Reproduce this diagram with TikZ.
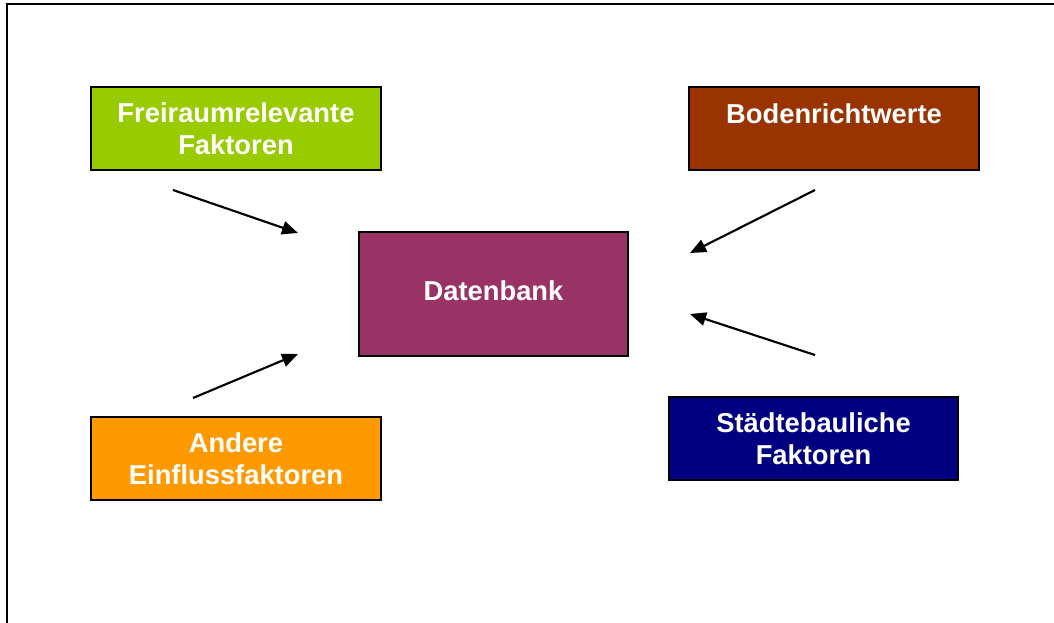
\documentclass[tikz,border=0pt]{standalone}
\usepackage{fontspec}
\setmainfont{Liberation Sans}
\usetikzlibrary{arrows.meta}
\begin{document}
\begin{tikzpicture}[x=0.75pt,y=-0.75pt,
  box/.style={draw=black,line width=1.5pt,rectangle,inner sep=0pt},
  lbl/.style={text=white,font=\fontsize{20.5}{24}\selectfont\bfseries,align=center,inner sep=0pt},
  conn/.style={line width=1.6pt,-{Triangle[length=12pt,width=10pt]}}]
\useasboundingbox (0,0) rectangle (1054,622);
\fill[white] (0,0) rectangle (1054,622);
\draw[line width=1.8pt] (7,640) -- (7,4) -- (1070,4);
% boxes
\node[box,fill={rgb,255:red,153;green,204;blue,0},minimum width=218pt,minimum height=62pt] (fr) at (236,128.5) {};
\node[box,fill={rgb,255:red,153;green,51;blue,0},minimum width=218pt,minimum height=62pt] (bo) at (834,128.5) {};
\node[box,fill={rgb,255:red,153;green,51;blue,102},minimum width=202pt,minimum height=93pt] (db) at (493.5,294) {};
\node[box,fill={rgb,255:red,255;green,153;blue,0},minimum width=218pt,minimum height=62pt] (an) at (236,458.5) {};
\node[box,fill={rgb,255:red,0;green,0;blue,128},minimum width=217pt,minimum height=62pt] (st) at (813.5,438.5) {};
% labels
\node[lbl] (frl) at (236,129) {Freiraumrelevante\\Faktoren};
\node[lbl] (bol) at (834,114) {Bodenrichtwerte};
\node[lbl] (dbl) at (493.5,291) {Datenbank};
\node[lbl] (anl) at (236,459) {Andere\\Einflussfaktoren};
\node[lbl] (stl) at (813.5,439) {Städtebauliche\\Faktoren};
% arrow endpoints
\coordinate (a1s) at (173,190); \coordinate (a1e) at (298,233);
\coordinate (a2s) at (815,190); \coordinate (a2e) at (690,253);
\coordinate (a3s) at (193,398); \coordinate (a3e) at (298,354);
\coordinate (a4s) at (815,355); \coordinate (a4e) at (690,314);
\draw[conn] (a1s) -- (a1e);
\draw[conn] (a2s) -- (a2e);
\draw[conn] (a3s) -- (a3e);
\draw[conn] (a4s) -- (a4e);
\end{tikzpicture}
\end{document}
